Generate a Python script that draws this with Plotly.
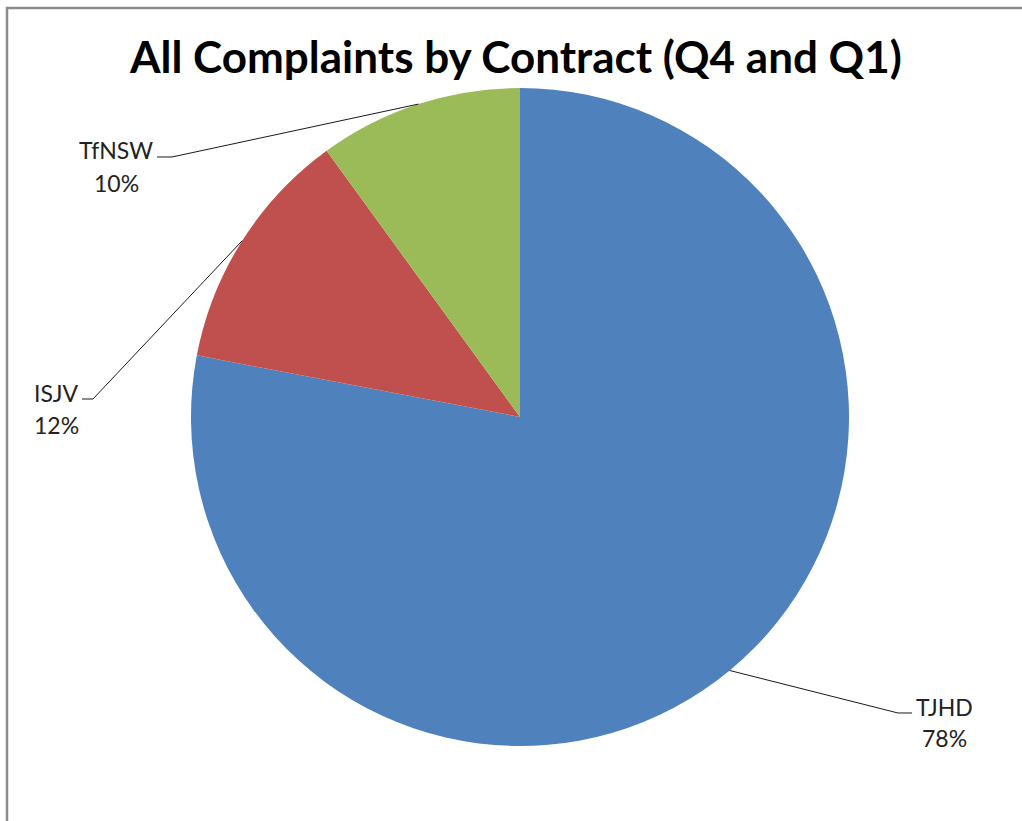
import math
import plotly.graph_objects as go

# ---- data ----
categories = ["TJHD", "ISJV", "TfNSW"]
values = [78, 12, 10]
colors = ["#4F81BD", "#C0504D", "#9BBB59"]
title_text = "All Complaints by Contract (Q4 and Q1)"

# ---- layout constants (pixels) ----
W, H = 1022, 821
CX, CY, R = 520, 417, 329
# label boxes: (center x, name-line y, pct-line y, elbow x, elbow y, end x)
label_layout = {
    "TfNSW": (116, 150, 183, 172, 157, 157),
    "ISJV": (56, 393, 425, 93, 399, 82),
    "TJHD": (944, 707, 738, 898, 713, 912),
}
FONT = "Lato"

def px(x):
    return x / W

def py(y):
    return 1 - y / H

fig = go.Figure(go.Pie(
    labels=categories, values=values, sort=False, direction="clockwise",
    rotation=0, marker=dict(colors=colors, line=dict(width=0)),
    textinfo="none", hoverinfo="label+percent", showlegend=False,
    domain=dict(x=[px(CX - R), px(CX + R)], y=[py(CY + R), py(CY - R)]),
))

shapes = [dict(type="rect", xref="paper", yref="paper",
               x0=px(7), y0=py(8), x1=px(W + 20), y1=py(H + 20),
               line=dict(color="#8C8C8C", width=2.5), fillcolor="rgba(0,0,0,0)")]
annotations = [dict(text="<b>%s</b>" % title_text, xref="paper", yref="paper",
                    x=px(515), y=py(56), xanchor="center", yanchor="middle",
                    showarrow=False, font=dict(family=FONT, size=44, color="#000"))]

total = sum(values)
cum = 0
for cat, v in zip(categories, values):
    mid = 2 * math.pi * (cum + v / 2) / total
    cum += v
    sx = CX + R * math.sin(mid)
    sy = CY - R * math.cos(mid)
    lx, ly1, ly2, ex, ey, endx = label_layout[cat]
    shapes.append(dict(type="path", xref="paper", yref="paper",
                       path="M %f,%f L %f,%f L %f,%f" % (px(sx), py(sy), px(ex), py(ey), px(endx), py(ey)),
                       line=dict(color="#1a1a1a", width=1)))
    pct = "%d%%" % round(100 * v / total)
    for txt, yy in ((cat, ly1), (pct, ly2)):
        annotations.append(dict(text=txt, xref="paper", yref="paper", x=px(lx), y=py(yy),
                                xanchor="center", yanchor="middle", showarrow=False,
                                font=dict(family=FONT, size=23, color="#222")))

fig.update_layout(width=W, height=H, margin=dict(l=0, r=0, t=0, b=0),
                  paper_bgcolor="white", plot_bgcolor="white",
                  shapes=shapes, annotations=annotations)
fig.write_html("out.html")
